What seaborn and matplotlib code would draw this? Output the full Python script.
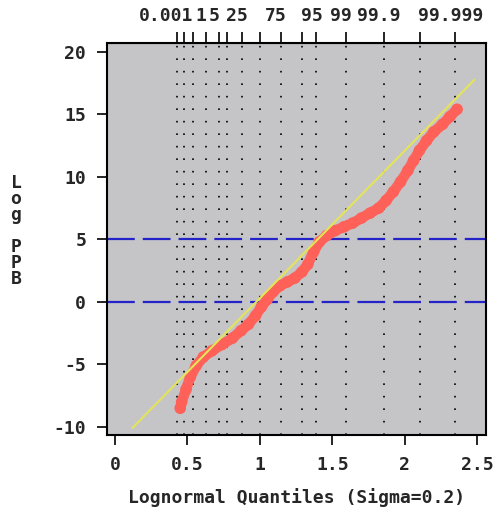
import numpy as np
import pandas as pd
import matplotlib
matplotlib.use("Agg")
import matplotlib.pyplot as plt
import matplotlib.transforms as mtransforms
import seaborn as sns
from statistics import NormalDist

# ---- data ----
sigma = 0.2
pct_ticks = [0.001, 0.01, 0.1, 1, 5, 10, 25, 50, 75, 90, 95, 99, 99.9, 99.99, 99.999]
pct_labels = ["0.001", "", "", "1", "5", "", "25", "", "75", "", "95", "99", "99.9", "", "99.999"]

x_ticks = [0, 0.5, 1, 1.5, 2, 2.5]
x_tick_labels = ["0", "0.5", "1", "1.5", "2", "2.5"]
y_ticks = [-10, -5, 0, 5, 10, 15, 20]
y_tick_labels = ["-10", "-5", "0", "5", "10", "15", "20"]

ref_hlines = [5, 0]
ref_intercept = -11.5
ref_slope = 11.8
ref_x_range = [0.12, 2.48]

q_x = [0.45, 0.46, 0.49, 0.52, 0.56, 0.61, 0.67, 0.74, 0.81, 0.87,
       0.92, 0.97, 1.01, 1.05, 1.09, 1.14, 1.19, 1.24, 1.29, 1.33,
       1.37, 1.41, 1.46, 1.52, 1.58, 1.64, 1.70, 1.76, 1.82, 1.87,
       1.92, 1.97, 2.02, 2.06, 2.10, 2.15, 2.20, 2.26, 2.31, 2.36]
q_y = [-8.5, -8.0, -7.0, -6.0, -5.1, -4.4, -3.9, -3.4, -2.9, -2.3,
       -1.8, -1.1, -0.4, 0.2, 0.8, 1.3, 1.6, 1.9, 2.4, 3.0,
       4.0, 4.8, 5.3, 5.7, 6.0, 6.3, 6.7, 7.1, 7.5, 8.1,
       8.8, 9.6, 10.5, 11.3, 12.1, 12.9, 13.6, 14.2, 14.8, 15.4]

# ---- style ----
sns.set_style("white")
plt.rcParams["font.family"] = ["DejaVu Sans Mono", "DejaVu Sans"]
plt.rcParams["font.weight"] = "bold"
FS = 13
BAND = "#ff6058"

fig = plt.figure(figsize=(4.97, 5.16), dpi=100)
ax = fig.add_axes([0.2153, 0.157, 0.7627, 0.7597])
ax.set_facecolor("#c5c5c8")

# percentile positions on lognormal quantile scale
nd = NormalDist()
pct_pos = [float(np.exp(sigma * nd.inv_cdf(p / 100.0))) for p in pct_ticks]

for xp in pct_pos:
    ax.axvline(xp, color="black", lw=1.2, linestyle=(0, (1, 6.5)), zorder=1)

for yh in ref_hlines:
    ax.axhline(yh, color="#2323c8", lw=1.6, linestyle=(0, (12.5, 3.6)), zorder=2)

df = pd.DataFrame({"x": q_x, "y": q_y})
sns.lineplot(data=df, x="x", y="y", sort=False, color=BAND, lw=7.5,
             solid_capstyle="round", solid_joinstyle="round", ax=ax, zorder=3,
             alpha=0.95)
sns.scatterplot(data=df, x="x", y="y", color=BAND, s=70, edgecolor="none",
                ax=ax, zorder=3)

rx = np.array(ref_x_range)
ref_df = pd.DataFrame({"x": rx, "y": ref_intercept + ref_slope * rx})
sns.lineplot(data=ref_df, x="x", y="y", color="#e4e45a", lw=1.5, ax=ax, zorder=4)

ax.set_xlim(-0.055, 2.56)
ax.set_ylim(-10.64, 20.7)
ax.set_xticks(x_ticks, labels=x_tick_labels)
ax.set_yticks(y_ticks, labels=y_tick_labels)
ax.tick_params(axis="both", direction="out", length=7, width=1.2, color="black",
               labelsize=FS, pad=8, bottom=True, left=True)
for sp in ax.spines.values():
    sp.set_color("black")
    sp.set_linewidth(1.5)

secax = ax.secondary_xaxis("top")
secax.set_xticks(pct_pos, labels=pct_labels)
secax.tick_params(direction="out", length=8, width=1.2, color="black",
                  labelsize=FS, pad=5)
for lab in secax.get_xticklabels():
    shift = -11 if lab.get_text() == "0.001" else -5
    off = mtransforms.ScaledTranslation(shift / 100, 0, fig.dpi_scale_trans)
    lab.set_transform(lab.get_transform() + off)

ax.set_xlabel("Lognormal Quantiles (Sigma=0.2)", fontsize=FS, fontweight="bold", labelpad=10)
ax.set_ylabel("L\no\ng\n\nP\nP\nB", rotation=0, fontsize=FS, fontweight="bold",
              linespacing=0.85, va="center", ha="center")
ax.yaxis.set_label_coords(-0.24, 0.52)

fig.savefig("out.png", dpi=100, facecolor="white")
